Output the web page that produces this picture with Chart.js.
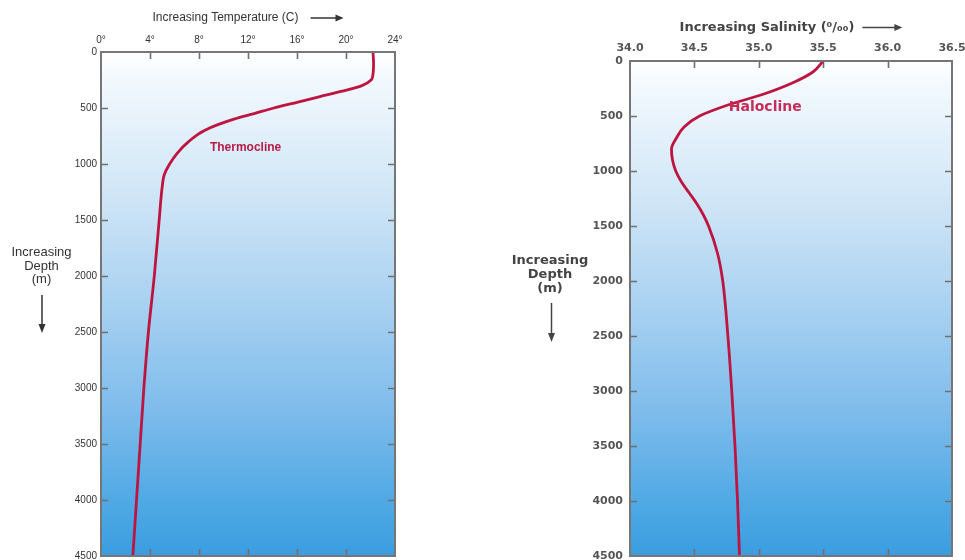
<!DOCTYPE html>
<html><head><meta charset="utf-8">
<script src="https://cdn.jsdelivr.net/npm/chart.js@4"></script>
<style>
html,body{margin:0;padding:0;background:#fff;overflow:hidden;width:965px;height:560px;}
.wrap{position:absolute;top:0;}
</style></head><body>
<div class="wrap" style="left:0;width:480px;height:580px"><canvas id="c1" width="480" height="580"></canvas></div>
<div class="wrap" style="left:480px;width:500px;height:580px"><canvas id="c2" width="500" height="580"></canvas></div>
<script>
// ---- data ----
const tempDepths = [0, 100, 200, 250, 300, 350, 400, 450, 500, 550, 600, 700, 800, 900, 1000, 1100, 1200, 1500, 2000, 2500, 3000, 3500, 4000, 4500];
const temperatures = [22.2, 22.25, 22.2, 22.05, 21.3, 19.7, 17.8, 16.0, 14.1, 12.5, 10.85, 8.45, 7.15, 6.25, 5.6, 5.15, 5.0, 4.75, 4.35, 3.87, 3.5, 3.2, 2.9, 2.6];
const salDepths = [0, 100, 200, 300, 400, 500, 600, 700, 800, 900, 1000, 1100, 1200, 1300, 1400, 1500, 1750, 2000, 2500, 3000, 3500, 4000, 4500];
const salinities = [35.5, 35.42, 35.26, 35.04, 34.76, 34.54, 34.42, 34.36, 34.322, 34.33, 34.355, 34.40, 34.46, 34.52, 34.57, 34.61, 34.68, 34.72, 34.76, 34.79, 34.815, 34.835, 34.85];
const depthRange = [0, 4500];
const tempRange = [0, 24];
const salRange = [34.0, 36.5];
const tempNote = ['Thermocline', 11.8, 850];
const salNote = ['Halocline', 35.05, 425];

const gradientStops = [[0, '#ffffff'], [0.05, '#f3f9fe'], [0.3, '#cde4f6'], [0.5, '#a8d1f1'], [0.7, '#80bdec'], [0.9, '#4ea8e4'], [1, '#3a9de0']];

function drawArrowH(ctx, x0, x1, y) {
  ctx.beginPath(); ctx.moveTo(x0, y); ctx.lineTo(x1 - 6, y); ctx.stroke();
  ctx.beginPath(); ctx.moveTo(x1, y); ctx.lineTo(x1 - 8, y - 3.5); ctx.lineTo(x1 - 8, y + 3.5); ctx.closePath(); ctx.fill();
}
function drawArrowV(ctx, x, y0, y1) {
  ctx.beginPath(); ctx.moveTo(x, y0); ctx.lineTo(x, y1 - 6); ctx.stroke();
  ctx.beginPath(); ctx.moveTo(x, y1); ctx.lineTo(x - 3.5, y1 - 9); ctx.lineTo(x + 3.5, y1 - 9); ctx.closePath(); ctx.fill();
}

const panelPlugin = {
  id: 'panel',
  beforeDatasetsDraw(chart, args, o) {
    const {ctx, chartArea: a} = chart;
    const g = ctx.createLinearGradient(0, a.top, 0, a.bottom);
    gradientStops.forEach(([p, c]) => g.addColorStop(p, c));
    ctx.save();
    ctx.fillStyle = g;
    ctx.fillRect(a.left, a.top, a.right - a.left, a.bottom - a.top);
    ctx.strokeStyle = '#6f6f6f'; ctx.lineWidth = 1.6;
    const xs = chart.scales.x, ys = chart.scales.y;
    const L = o.tick;
    xs.ticks.forEach(t => {
      if (t.value <= xs.min + 1e-9 || t.value >= xs.max - 1e-9) return;
      const p = Math.round(xs.getPixelForValue(t.value)) + 0.5;
      ctx.beginPath(); ctx.moveTo(p, a.top); ctx.lineTo(p, a.top + L);
      ctx.moveTo(p, a.bottom); ctx.lineTo(p, a.bottom - L); ctx.stroke();
    });
    ys.ticks.forEach(t => {
      if (t.value <= ys.min || t.value >= ys.max) return;
      const p = Math.round(ys.getPixelForValue(t.value)) + 0.5;
      ctx.beginPath(); ctx.moveTo(a.left, p); ctx.lineTo(a.left + L, p);
      ctx.moveTo(a.right, p); ctx.lineTo(a.right - L, p); ctx.stroke();
    });
    ctx.restore();
  },
  afterDatasetsDraw(chart, args, o) {
    const {ctx, chartArea: a} = chart;
    ctx.save();
    ctx.strokeStyle = '#767676'; ctx.lineWidth = 2;
    ctx.strokeRect(a.left, a.top, a.right - a.left, a.bottom - a.top);
    const note = o.note;
    ctx.font = o.noteFont; ctx.fillStyle = o.noteColor;
    ctx.textAlign = 'center'; ctx.textBaseline = 'middle';
    ctx.fillText(note[0], chart.scales.x.getPixelForValue(note[1]), chart.scales.y.getPixelForValue(note[2]));
    ctx.font = o.titleFont; ctx.fillStyle = o.textColor; ctx.strokeStyle = o.textColor;
    ctx.textAlign = 'left';
    const tw = ctx.measureText(o.title).width;
    const total = tw + o.arrowGap + o.arrowLen;
    const cx = (a.left + a.right) / 2;
    const sx = cx - total / 2;
    ctx.fillText(o.title, sx, o.titleY);
    ctx.lineWidth = 1.5;
    drawArrowH(ctx, sx + tw + o.arrowGap, sx + total, o.titleY);
    ctx.font = o.depthFont; ctx.textAlign = 'center';
    o.depthLines.forEach((s, i) => ctx.fillText(s, o.depthX, o.depthY + i * o.depthLH));
    drawArrowV(ctx, o.depthArrowX, o.depthArrowTop, o.depthArrowBottom);
    ctx.restore();
  }
};

function makeChart(id, xs, ys, xr, cfg) {
  return new Chart(document.getElementById(id), {
    type: 'scatter',
    data: { datasets: [{
      data: xs.map((v, i) => ({x: v, y: ys[i]})),
      showLine: true, pointRadius: 0, borderColor: '#bd1540', borderWidth: 2.8,
      cubicInterpolationMode: 'monotone', fill: false
    }]},
    plugins: [panelPlugin],
    options: {
      indexAxis: 'y',
      responsive: false, animation: false, events: [],
      layout: { padding: cfg.padding },
      plugins: { legend: {display: false}, tooltip: {enabled: false}, panel: cfg.panel },
      scales: {
        x: {
          type: 'linear', position: 'top', min: xr[0], max: xr[1],
          afterFit: s => { s.height = cfg.xHeight; },
          grid: {display: false, drawTicks: false}, border: {display: false},
          ticks: { stepSize: cfg.xStep, color: cfg.tickColor, font: cfg.xFont, padding: cfg.xPad, autoSkip: false, maxRotation: 0, callback: cfg.xFmt }
        },
        y: {
          type: 'linear', position: 'left', reverse: true, min: depthRange[0], max: depthRange[1],
          afterFit: s => { s.width = 60; },
          grid: {display: false, drawTicks: false}, border: {display: false},
          ticks: { stepSize: 500, color: cfg.tickColor, font: cfg.yFont, padding: cfg.yPad, autoSkip: false, callback: v => String(v) }
        }
      }
    }
  });
}

makeChart('c1', temperatures, tempDepths, tempRange, {
  padding: {left: 41, right: 85, top: 0, bottom: 24},
  xHeight: 52, xStep: 4, xPad: 6, yPad: 4, tickColor: '#333',
  xFont: {family: 'Liberation Sans', size: 10}, yFont: {family: 'Liberation Sans', size: 10},
  xFmt: v => v + '°',
  panel: {
    tick: 7, note: tempNote, noteFont: 'bold 12px "Liberation Sans"', noteColor: '#b51c47',
    title: 'Increasing Temperature (C)', titleFont: '12px "Liberation Sans"', titleY: 18, arrowGap: 12, arrowLen: 33, textColor: '#333',
    depthLines: ['Increasing', 'Depth', '(m)'], depthFont: '13px "Liberation Sans"', depthX: 41.5, depthY: 252.5, depthLH: 13.5,
    depthArrowX: 42, depthArrowTop: 295, depthArrowBottom: 333
  }
});

makeChart('c2', salinities, salDepths, salRange, {
  padding: {left: 90, right: 28, top: 0, bottom: 24},
  xHeight: 61, xStep: 0.5, xPad: 6.4, yPad: 7, tickColor: '#555',
  xFont: {family: 'DejaVu Sans', size: 11, weight: 'bold'}, yFont: {family: 'DejaVu Sans', size: 11, weight: 'bold'},
  xFmt: v => v.toFixed(1),
  panel: {
    tick: 7, note: salNote, noteFont: 'bold 14px "DejaVu Sans"', noteColor: '#c42d58',
    title: 'Increasing Salinity (⁰/₀₀)', titleFont: 'bold 13px "DejaVu Sans"', titleY: 27.5, arrowGap: 8, arrowLen: 40, textColor: '#444',
    depthLines: ['Increasing', 'Depth', '(m)'], depthFont: 'bold 13px "DejaVu Sans"', depthX: 70, depthY: 261, depthLH: 14,
    depthArrowX: 71.5, depthArrowTop: 303, depthArrowBottom: 342
  }
});
</script>
</body></html>
